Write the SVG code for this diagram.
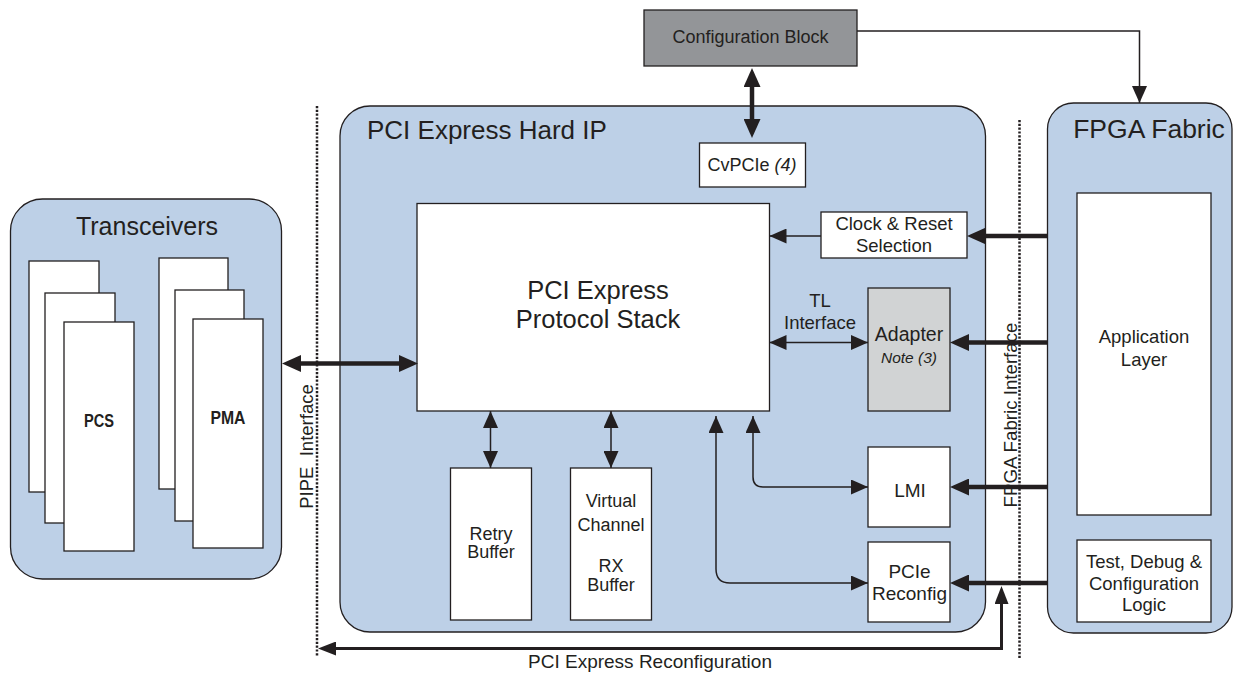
<svg xmlns="http://www.w3.org/2000/svg" width="1239" height="673" viewBox="0 0 1239 673">
  <style>
    .region { fill: #bdd0e7; stroke: #231f20; stroke-width: 1.3; }
    .box { fill: #ffffff; stroke: #231f20; stroke-width: 1.3; }
    .t { font-family: "Liberation Sans", Arial, sans-serif; fill: #231f20; text-anchor: middle; }
    .it { font-style: italic; }
    .bold { font-weight: bold; }
    .dots { stroke: #231f20; stroke-width: 2.5; stroke-dasharray: 2.2 1.6; fill: none; }
    .thin { stroke: #231f20; stroke-width: 1.5; fill: none; }
    .thick { stroke: #231f20; stroke-width: 4.5; fill: none; }
    .mid { stroke: #231f20; stroke-width: 3; fill: none; }
  </style>
  <defs>
    <marker id="ah" markerUnits="userSpaceOnUse" viewBox="0 0 17 15" markerWidth="17" markerHeight="15" refX="17" refY="7.5" orient="auto-start-reverse">
      <path d="M0,0 L17,7.5 L0,15 z" fill="#231f20"/>
    </marker>
    <marker id="ahb" markerUnits="userSpaceOnUse" viewBox="0 0 19 17" markerWidth="19" markerHeight="17" refX="9" refY="8.5" orient="auto-start-reverse">
      <path d="M0,0 L19,8.5 L0,17 z" fill="#231f20"/>
    </marker>
    <marker id="ahm" markerUnits="userSpaceOnUse" viewBox="0 0 18 14" markerWidth="18" markerHeight="14" refX="8" refY="7" orient="auto-start-reverse">
      <path d="M0,0 L18,7 L0,14 z" fill="#231f20"/>
    </marker>
  </defs>

  <!-- large regions -->
  <g id="transceivers">
    <rect class="region" x="10.5" y="199" width="271" height="380" rx="32"/>
    <text class="t" x="147" y="235" font-size="25">Transceivers</text>
    <rect class="box" x="29" y="261" width="70" height="231"/>
    <rect class="box" x="45" y="293" width="70" height="230"/>
    <rect class="box" x="64" y="322" width="70" height="229"/>
    <text class="t bold" x="99" y="427" font-size="19" textLength="30" lengthAdjust="spacingAndGlyphs">PCS</text>
    <rect class="box" x="159" y="258" width="69" height="231"/>
    <rect class="box" x="175" y="290" width="69" height="231"/>
    <rect class="box" x="193" y="319" width="70" height="229"/>
    <text class="t bold" x="228" y="423.5" font-size="19" textLength="35" lengthAdjust="spacingAndGlyphs">PMA</text>
  </g>

  <g id="hard-ip">
    <rect class="region" x="340" y="106" width="645.5" height="526" rx="30"/>
    <text class="t" x="367" y="139" font-size="26" style="text-anchor:start">PCI Express Hard IP</text>
  </g>

  <g id="fpga-fabric">
    <rect class="region" x="1047.5" y="103" width="184.5" height="530" rx="26"/>
    <text class="t" x="1149" y="138" font-size="26.5">FPGA Fabric</text>
  </g>

  <!-- interface boundaries -->
  <g id="interfaces">
    <line class="dots" x1="317" y1="106" x2="317" y2="657"/>
    <text class="t" transform="translate(313,446.5) rotate(-90)" font-size="18.5" xml:space="preserve">PIPE  Interface</text>
    <line class="dots" x1="1019.5" y1="120" x2="1019.5" y2="658"/>
    <text class="t" transform="translate(1017,415) rotate(-90)" font-size="18.7">FPGA Fabric Interface</text>
  </g>

  <g id="config-block">
    <rect x="644" y="10" width="213" height="56" fill="#939598" stroke="#231f20" stroke-width="1.3"/>
    <text class="t" x="750.5" y="43" font-size="18">Configuration Block</text>
  </g>

  <g id="cvpcie">
    <rect class="box" x="699.5" y="143" width="106" height="44"/>
    <text class="t" x="752" y="170.5" font-size="18">CvPCIe <tspan class="it">(4)</tspan></text>
  </g>

  <g id="protocol-stack">
    <rect class="box" x="417" y="203.5" width="352.5" height="207.5"/>
    <text class="t" x="598" y="299" font-size="25.5">PCI Express</text>
    <text class="t" x="598" y="328" font-size="25.5">Protocol Stack</text>
  </g>

  <g id="clock-reset">
    <rect class="box" x="821" y="212" width="146" height="46"/>
    <text class="t" x="894" y="230" font-size="18.5">Clock &amp; Reset</text>
    <text class="t" x="894" y="252" font-size="18.5">Selection</text>
  </g>

  <g id="adapter">
    <rect x="868" y="288" width="82" height="123" fill="#d1d3d4" stroke="#231f20" stroke-width="1.3"/>
    <text class="t" x="909" y="341" font-size="19.5">Adapter</text>
    <text class="t it" x="909" y="363" font-size="15.5">Note (3)</text>
  </g>

  <g id="tl-interface-label">
    <text class="t" x="820" y="306.5" font-size="18.5">TL</text>
    <text class="t" x="820" y="329" font-size="18.5">Interface</text>
  </g>

  <g id="retry-buffer">
    <rect class="box" x="450.5" y="468" width="81" height="152"/>
    <text class="t" x="491" y="539.5" font-size="18">Retry</text>
    <text class="t" x="491" y="557.5" font-size="18">Buffer</text>
  </g>

  <g id="vc-rx-buffer">
    <rect class="box" x="570.5" y="468" width="81" height="152"/>
    <text class="t" x="611" y="507" font-size="18">Virtual</text>
    <text class="t" x="611" y="531" font-size="18">Channel</text>
    <text class="t" x="611" y="572" font-size="18">RX</text>
    <text class="t" x="611" y="591" font-size="18">Buffer</text>
  </g>

  <g id="lmi">
    <rect class="box" x="868" y="447" width="82" height="80"/>
    <text class="t" x="910" y="497" font-size="19">LMI</text>
  </g>

  <g id="pcie-reconfig">
    <rect class="box" x="868" y="542" width="82" height="80"/>
    <text class="t" x="909.5" y="578" font-size="19">PCIe</text>
    <text class="t" x="909.5" y="599.5" font-size="19">Reconfig</text>
  </g>

  <g id="application-layer">
    <rect class="box" x="1077" y="193" width="134" height="322"/>
    <text class="t" x="1144" y="343" font-size="18.5">Application</text>
    <text class="t" x="1144" y="366" font-size="18.5">Layer</text>
  </g>

  <g id="test-debug">
    <rect class="box" x="1077" y="540" width="134" height="82"/>
    <text class="t" x="1144" y="568" font-size="18.5">Test, Debug &amp;</text>
    <text class="t" x="1144" y="589.5" font-size="18.5">Configuration</text>
    <text class="t" x="1144" y="610.5" font-size="18.5">Logic</text>
  </g>

  <!-- connectors -->
  <g id="connectors">
    <path class="thin" d="M857,31 H1139.5 V103" marker-end="url(#ah)"/>
    <path class="thick" d="M752,78 V128" marker-start="url(#ahb)" marker-end="url(#ahb)"/>
    <path class="thick" d="M292,363.5 H408" marker-start="url(#ahb)" marker-end="url(#ahb)"/>
    <path class="thin" d="M821,236 H769.5" marker-end="url(#ah)"/>
    <path class="thick" d="M1048,236 H977" marker-end="url(#ahb)"/>
    <path class="thin" d="M769.5,342.5 H868" marker-start="url(#ah)" marker-end="url(#ah)"/>
    <path class="thick" d="M1048,342.5 H960" marker-end="url(#ahb)"/>
    <path class="thin" d="M490.5,411 V468" marker-start="url(#ah)" marker-end="url(#ah)"/>
    <path class="thin" d="M611,411 V468" marker-start="url(#ah)" marker-end="url(#ah)"/>
    <path class="thin" d="M753,416 V477 Q753,487 763,487 H868" marker-start="url(#ah)" marker-end="url(#ah)"/>
    <path class="thin" d="M716,416 V569 Q716,583 730,583 H868" marker-start="url(#ah)" marker-end="url(#ah)"/>
    <path class="thick" d="M1048,487 H960" marker-end="url(#ahb)"/>
    <path class="thick" d="M1048,583 H960" marker-end="url(#ahb)"/>
    <path class="mid" d="M1001.5,596 V648.5 H328" marker-start="url(#ahm)" marker-end="url(#ahm)"/>
  </g>
  <text class="t" x="650" y="668" font-size="19">PCI Express Reconfiguration</text>
</svg>
